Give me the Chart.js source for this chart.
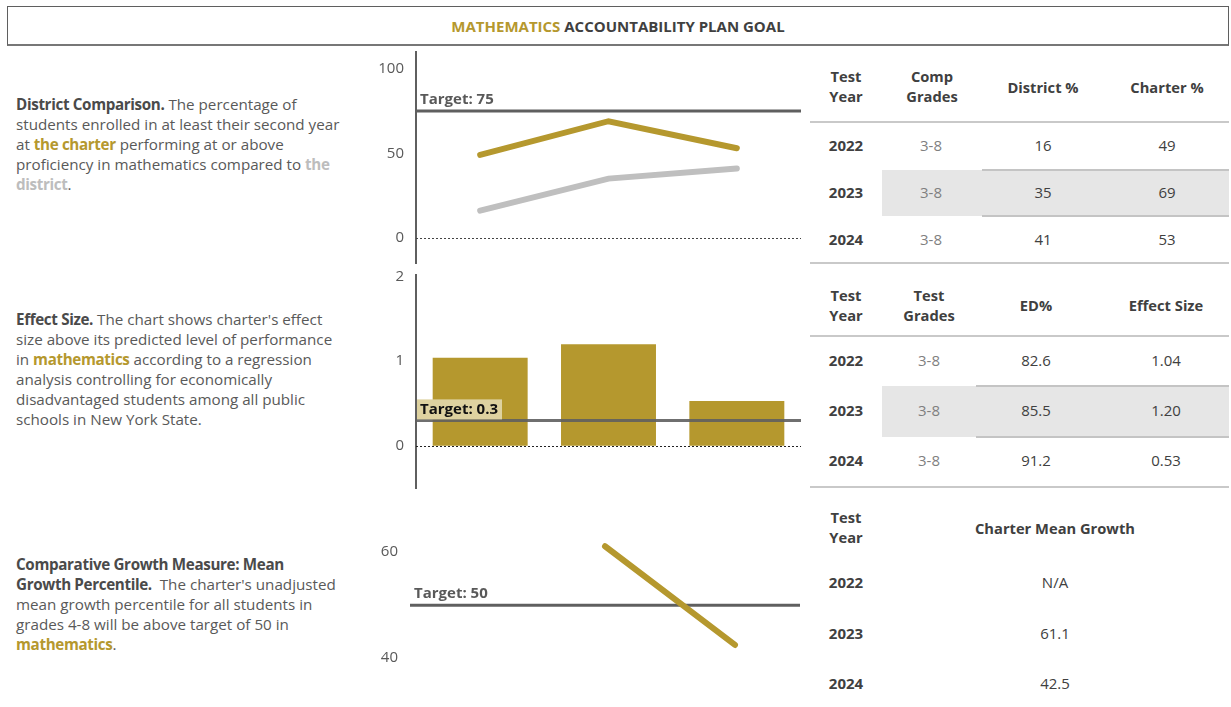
<!DOCTYPE html>
<html><head><meta charset="utf-8">
<script src="https://cdn.jsdelivr.net/npm/chart.js@4.4.0/dist/chart.umd.min.js"></script>
<style>
html,body{margin:0;padding:0;background:#fff;width:1231px;height:707px;overflow:hidden;font-family:'Open Sans',Lato,sans-serif;color:#595959;}
.abs{position:absolute;}
#hdr{left:7px;top:6px;width:1220px;height:37px;border:1px solid #5f5f5f;border-bottom:2px solid #777;display:flex;align-items:center;justify-content:center;font-weight:bold;font-size:15px;color:#404040;}
.gold{color:#B5982E;font-weight:bold;}
.lgray{color:#BDBDBD;font-weight:bold;}
.para{left:16px;font-size:15.2px;line-height:20px;white-space:nowrap;color:#595959;}
.para b{color:#4a4a4a;letter-spacing:-0.35px;}
.para .gold,.para .lgray{letter-spacing:-0.35px;}
.cell{position:absolute;transform:translate(-50%,-50%);white-space:nowrap;font-size:15px;line-height:20px;text-align:center;}
.hd{font-weight:bold;color:#404040;font-size:14.7px;}
.yr{font-weight:bold;color:#404040;}
.gr{color:#7f7f7f;}
.val{color:#404040;}
.hl{position:absolute;height:2px;background:#c9c9c9;}
.shade{position:absolute;background:#e6e6e6;}
canvas{position:absolute;}
</style>
</head><body>
<div id="hdr" class="abs"><span class="gold">MATHEMATICS</span>&nbsp;ACCOUNTABILITY PLAN GOAL</div>

<div class="abs para" style="top:94px;"><b>District Comparison.</b> The percentage of<br>students enrolled in at least their second year<br>at <span class="gold">the charter</span> performing at or above<br>proficiency in mathematics compared to <span class="lgray">the</span><br><span class="lgray">district</span>.</div>
<div class="abs para" style="top:309px;"><b>Effect Size.</b> The chart shows charter's effect<br>size above its predicted level of performance<br>in <span class="gold">mathematics</span> according to a regression<br>analysis controlling for economically<br>disadvantaged students among all public<br>schools in New York State.</div>
<div class="abs para" style="top:554px;"><b>Comparative Growth Measure: Mean<br>Growth Percentile.</b>&nbsp; The charter's unadjusted<br>mean growth percentile for all students in<br>grades 4-8 will be above target of 50 in<br><span class="gold">mathematics</span>.</div>

<canvas id="c1" width="435" height="220" style="left:370px;top:50px;width:435px;height:220px;"></canvas>
<canvas id="c2" width="435" height="233" style="left:370px;top:262px;width:435px;height:233px;"></canvas>
<canvas id="c3" width="435" height="210" style="left:370px;top:497px;width:435px;height:210px;"></canvas>

<div id="tables"></div>

<script>
// ---- data ----
const years = ['2022', '2023', '2024'];
const compGrades = ['3-8', '3-8', '3-8'];
const districtPct = [16, 35, 41];
const charterPct = [49, 69, 53];
const proficiencyTarget = 75;
const proficiencyTicks = [0, 50, 100];

const testGrades = ['3-8', '3-8', '3-8'];
const edPct = ['82.6', '85.5', '91.2'];
const effectSize = [1.04, 1.20, 0.53];
const effectTarget = 0.3;
const effectTicks = [0, 1, 2];

const meanGrowth = [null, 61.1, 42.5];
const growthTarget = 50;
const growthTicks = [40, 60];

// ---- tables ----
const T = document.getElementById('tables');
function cell(x, y, html, cls) {
  const d = document.createElement('div');
  d.className = 'cell ' + cls;
  d.style.left = x + 'px'; d.style.top = (y - 1) + 'px';
  d.innerHTML = html; T.appendChild(d);
}
function box(cls, l, t, w, h, color) {
  const d = document.createElement('div');
  d.className = cls;
  d.style.left = l + 'px'; d.style.top = t + 'px'; d.style.width = w + 'px';
  if (h != null) d.style.height = h + 'px';
  if (color) d.style.background = color;
  T.appendChild(d);
}
// table 1
box('shade', 882, 170, 347, 46);
box('hl', 810, 121, 419, 2);
box('hl', 982, 169, 247, 2, '#c4c4c4');
box('hl', 982, 215, 247, 2, '#c4c4c4');
box('hl', 810, 262, 419, 2);
cell(846, 87, 'Test<br>Year', 'hd');
cell(932, 87, 'Comp<br>Grades', 'hd');
cell(1043, 88, 'District %', 'hd');
cell(1167, 88, 'Charter %', 'hd');
const r1 = [146, 193, 240];
years.forEach((y, i) => {
  cell(846, r1[i], y, 'yr');
  cell(931, r1[i], compGrades[i], 'gr');
  cell(1043, r1[i], String(districtPct[i]), 'val');
  cell(1167, r1[i], String(charterPct[i]), 'val');
});
// table 2
box('shade', 882, 386, 347, 51);
box('hl', 810, 335, 419, 2);
box('hl', 976, 385, 253, 2, '#c4c4c4');
box('hl', 976, 436, 253, 2, '#c4c4c4');
box('hl', 810, 486, 419, 2);
cell(846, 306, 'Test<br>Year', 'hd');
cell(929, 306, 'Test<br>Grades', 'hd');
cell(1036, 306, 'ED%', 'hd');
cell(1166, 306, 'Effect Size', 'hd');
const r2 = [361, 411, 461];
years.forEach((y, i) => {
  cell(846, r2[i], y, 'yr');
  cell(929, r2[i], testGrades[i], 'gr');
  cell(1036, r2[i], edPct[i], 'val');
  cell(1166, r2[i], effectSize[i].toFixed(2), 'val');
});
// table 3
cell(846, 528, 'Test<br>Year', 'hd');
cell(1055, 529, 'Charter Mean Growth', 'hd');
const r3 = [583, 634, 684];
years.forEach((y, i) => {
  cell(846, r3[i], y, 'yr');
  cell(1055, r3[i], meanGrowth[i] == null ? 'N/A' : meanGrowth[i].toFixed(1), 'val');
});

// ---- charts ----
Chart.defaults.font.family = '"Open Sans", Lato, sans-serif';
Chart.defaults.font.size = 15;
Chart.defaults.color = '#595959';
const GOLD = '#B5982E';
const LABEL_FONT = 'bold 15px "Open Sans", Lato, sans-serif';

const refLines = {
  id: 'refLines',
  beforeDatasetsDraw(chart, args, o) { if (!o.onTop) draw(chart, o); },
  afterDatasetsDraw(chart, args, o) { if (o.onTop) draw(chart, o); }
};
function draw(chart, o) {
  const ctx = chart.ctx, a = chart.chartArea, y = chart.scales.y;
  ctx.save();
  if (o.zero) {
    const zy = Math.round(y.getPixelForValue(0)) + 0.5;
    ctx.strokeStyle = o.zeroColor || '#333';
    ctx.lineWidth = 1;
    ctx.setLineDash([2, 2]);
    ctx.beginPath(); ctx.moveTo(a.left, zy); ctx.lineTo(a.right, zy); ctx.stroke();
    ctx.setLineDash([]);
  }
  const ty = y.getPixelForValue(o.target);
  ctx.strokeStyle = o.color;
  ctx.lineWidth = 3;
  ctx.beginPath(); ctx.moveTo(a.left, ty); ctx.lineTo(a.right, ty); ctx.stroke();
  ctx.font = LABEL_FONT;
  const tw = ctx.measureText(o.label).width;
  const lx = a.left + (o.dx || 4);
  const ly = ty - (o.dy || 11);
  if (o.bg) {
    ctx.fillStyle = o.bg;
    ctx.fillRect(lx - 3, ly - 10, tw + 7, 20);
  }
  ctx.fillStyle = o.labelColor;
  ctx.textBaseline = 'middle';
  ctx.fillText(o.label, lx, ly);
  ctx.restore();
}

function yAxis(min, max, ticks, width, border, pad) {
  return {
    min, max,
    afterBuildTicks(s) { s.ticks = ticks.map(v => ({ value: v })); },
    afterFit(s) { s.width = width; s.paddingTop = 0; s.paddingBottom = 0; },
    grid: { display: false, drawTicks: false },
    border: { display: border, color: '#5f5f5f', width: 2 },
    ticks: { padding: pad, color: '#595959', font: { size: 15 } }
  };
}
const xAxis = { display: false, offset: true, grid: { display: false } };
const common = {
  responsive: false, animation: false,
  plugins: { legend: { display: false }, tooltip: { enabled: false } }
};

new Chart(document.getElementById('c1'), {
  type: 'line',
  data: {
    labels: years,
    datasets: [
      { data: charterPct, borderColor: GOLD, borderWidth: 6, pointRadius: 0, tension: 0, borderCapStyle: 'round' },
      { data: districtPct, borderColor: '#BFBFBF', borderWidth: 6, pointRadius: 0, tension: 0, borderCapStyle: 'round' }
    ]
  },
  options: Object.assign({}, common, {
    layout: { padding: { top: 2, right: 4, bottom: 7, left: 0 } },
    scales: { x: xAxis, y: yAxis(-15, 110, proficiencyTicks, 46, true, 12) },
    plugins: Object.assign({}, common.plugins, {
      refLines: { target: proficiencyTarget, label: 'Target: ' + proficiencyTarget, color: '#5f5f5f', labelColor: '#595959', zero: true, zeroColor: '#444', onTop: false, dx: 4, dy: 11 }
    })
  }),
  plugins: [refLines]
});

new Chart(document.getElementById('c2'), {
  type: 'bar',
  data: {
    labels: years,
    datasets: [{ data: effectSize, backgroundColor: GOLD, categoryPercentage: 1, barPercentage: 0.74 }]
  },
  options: Object.assign({}, common, {
    layout: { padding: { top: 13, right: 4, bottom: 7, left: 0 } },
    scales: { x: xAxis, y: yAxis(-0.5, 2.02, effectTicks, 46, true, 12) },
    plugins: Object.assign({}, common.plugins, {
      refLines: { target: effectTarget, label: 'Target: ' + effectTarget, color: 'rgba(95,95,95,0.9)', labelColor: '#111', bg: 'rgba(222,210,160,1)', zero: true, zeroColor: '#222', onTop: true, dx: 4, dy: 11 }
    })
  }),
  plugins: [refLines]
});

new Chart(document.getElementById('c3'), {
  type: 'line',
  data: {
    labels: years,
    datasets: [{ data: meanGrowth, borderColor: GOLD, borderWidth: 6, pointRadius: 0, tension: 0, borderCapStyle: 'round' }]
  },
  options: Object.assign({}, common, {
    layout: { padding: { top: 2, right: 5, bottom: 1, left: 0 } },
    scales: { x: xAxis, y: yAxis(31, 70, growthTicks, 40, false, 12) },
    plugins: Object.assign({}, common.plugins, {
      refLines: { target: growthTarget, label: 'Target: ' + growthTarget, color: '#5f5f5f', labelColor: '#595959', zero: false, onTop: false, dx: 4, dy: 11 }
    })
  }),
  plugins: [refLines]
});
</script>
</body></html>
